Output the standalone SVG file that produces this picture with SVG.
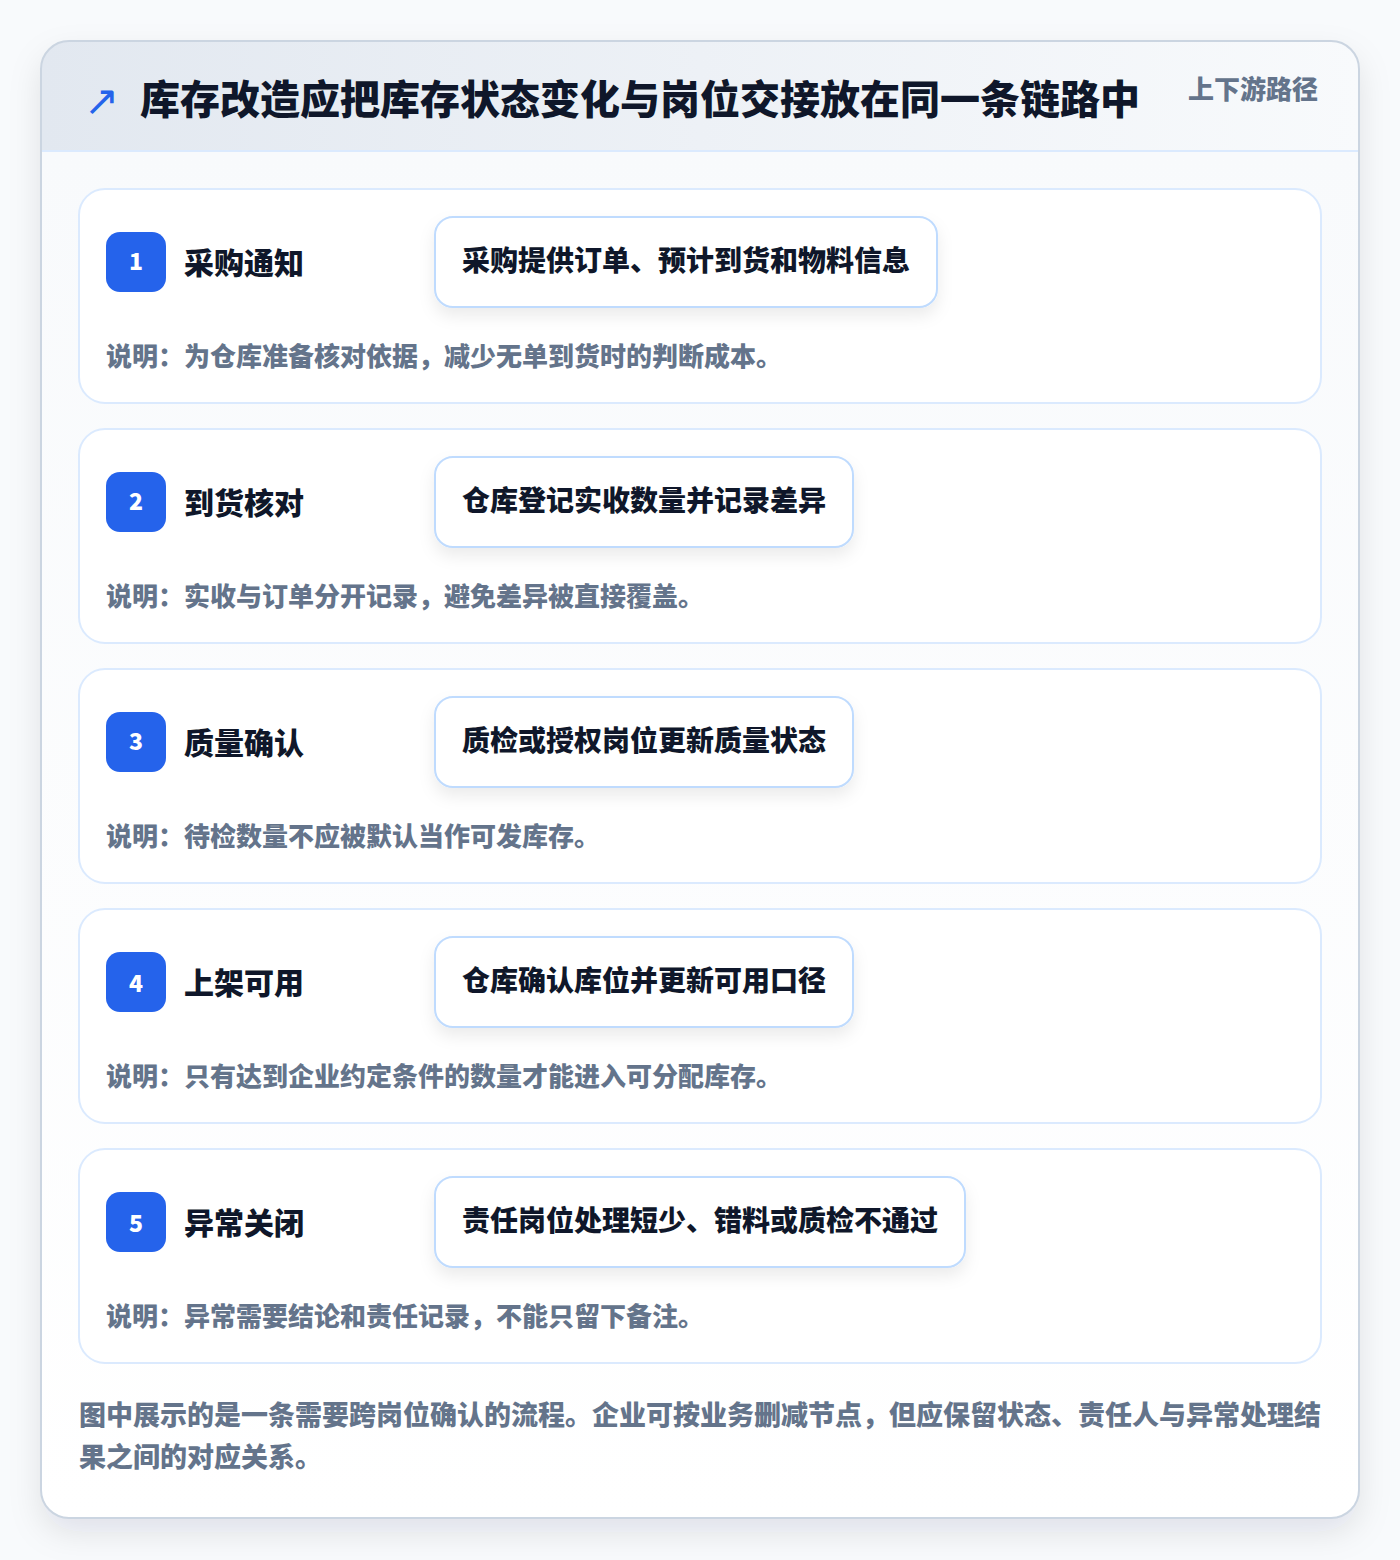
<svg xmlns="http://www.w3.org/2000/svg" width="1400" height="1560" viewBox="0 0 1400 1560">
<defs>
<linearGradient id="hdr" x1="0" y1="0" x2="1" y2="0"><stop offset="0" stop-color="#e2e8f0"/><stop offset="1" stop-color="#f8fafc"/></linearGradient>
<linearGradient id="body" x1="0" y1="0" x2="0" y2="1"><stop offset="0" stop-color="#f8fafc"/><stop offset="1" stop-color="#ffffff"/></linearGradient>
<clipPath id="cardClip"><rect x="41" y="41" width="1318" height="1477" rx="28"/></clipPath>
<filter id="sh" x="-10%" y="-10%" width="120%" height="125%"><feDropShadow dx="0" dy="14" stdDeviation="16" flood-color="#0f172a" flood-opacity="0.10"/></filter>
<filter id="sh2" x="-10%" y="-20%" width="120%" height="160%"><feDropShadow dx="0" dy="8" stdDeviation="8" flood-color="#0f172a" flood-opacity="0.08"/></filter>
<style>
text{font-family:"Noto Sans CJK SC","Noto Sans",sans-serif;font-weight:900}
.title{font-size:40px;fill:#0f172a}
.tag{font-size:26px;fill:#64748b}
.step{fill:#ffffff;stroke:#dbeafe;stroke-width:2}
.badge{fill:#2563eb}
.num{font-size:23px;fill:#ffffff;text-anchor:middle}
.st{font-size:30px;fill:#0f172a}
.box{fill:#ffffff;stroke:#bfdbfe;stroke-width:2}
.bt{font-size:28px;fill:#0f172a}
.desc{font-size:26px;fill:#64748b}
.foot{font-size:27px;fill:#64748b}
</style>
</defs>
<rect width="1400" height="1560" fill="#f8fafc"/>
<g id="card">
<rect x="41" y="41" width="1318" height="1477" rx="28" fill="#ffffff" filter="url(#sh)"/>
<g clip-path="url(#cardClip)">
<rect x="41" y="151" width="1318" height="1367" fill="url(#body)"/>
<rect x="41" y="41" width="1318" height="110" fill="url(#hdr)"/>
<line x1="41" y1="151" x2="1359" y2="151" stroke="#dbeafe" stroke-width="2"/>
</g>
<rect x="41" y="41" width="1318" height="1477" rx="28" fill="none" stroke="#cbd5e1" stroke-width="2"/>
</g>
<g id="header">
<text x="84" y="115" font-size="42" fill="#2563eb" style="font-family:'DejaVu Sans',sans-serif;font-weight:400">↗</text>
<text class="title" x="140" y="114">库存改造应把库存状态变化与岗位交接放在同一条链路中</text>
<text class="tag" x="1188" y="99">上下游路径</text>
</g>
<g id="connectors"></g>
<g id="step1">
<rect class="step" x="79" y="189" width="1242" height="214" rx="26"/>
<rect class="badge" x="106" y="232" width="60" height="60" rx="14"/>
<text class="num" x="136" y="270">1</text>
<text class="st" x="184" y="274">采购通知</text>
<rect class="box" x="435" y="217" width="502" height="90" rx="18" filter="url(#sh2)"/>
<text class="bt" x="462" y="271">采购提供订单、预计到货和物料信息</text>
<text class="desc" x="106" y="366">说明：为仓库准备核对依据，减少无单到货时的判断成本。</text>
</g>
<g id="step2">
<rect class="step" x="79" y="429" width="1242" height="214" rx="26"/>
<rect class="badge" x="106" y="472" width="60" height="60" rx="14"/>
<text class="num" x="136" y="510">2</text>
<text class="st" x="184" y="514">到货核对</text>
<rect class="box" x="435" y="457" width="418" height="90" rx="18" filter="url(#sh2)"/>
<text class="bt" x="462" y="511">仓库登记实收数量并记录差异</text>
<text class="desc" x="106" y="606">说明：实收与订单分开记录，避免差异被直接覆盖。</text>
</g>
<g id="step3">
<rect class="step" x="79" y="669" width="1242" height="214" rx="26"/>
<rect class="badge" x="106" y="712" width="60" height="60" rx="14"/>
<text class="num" x="136" y="750">3</text>
<text class="st" x="184" y="754">质量确认</text>
<rect class="box" x="435" y="697" width="418" height="90" rx="18" filter="url(#sh2)"/>
<text class="bt" x="462" y="751">质检或授权岗位更新质量状态</text>
<text class="desc" x="106" y="846">说明：待检数量不应被默认当作可发库存。</text>
</g>
<g id="step4">
<rect class="step" x="79" y="909" width="1242" height="214" rx="26"/>
<rect class="badge" x="106" y="952" width="60" height="60" rx="14"/>
<text class="num" x="136" y="992">4</text>
<text class="st" x="184" y="994">上架可用</text>
<rect class="box" x="435" y="937" width="418" height="90" rx="18" filter="url(#sh2)"/>
<text class="bt" x="462" y="991">仓库确认库位并更新可用口径</text>
<text class="desc" x="106" y="1086">说明：只有达到企业约定条件的数量才能进入可分配库存。</text>
</g>
<g id="step5">
<rect class="step" x="79" y="1149" width="1242" height="214" rx="26"/>
<rect class="badge" x="106" y="1192" width="60" height="60" rx="14"/>
<text class="num" x="136" y="1232">5</text>
<text class="st" x="184" y="1234">异常关闭</text>
<rect class="box" x="435" y="1177" width="530" height="90" rx="18" filter="url(#sh2)"/>
<text class="bt" x="462" y="1231">责任岗位处理短少、错料或质检不通过</text>
<text class="desc" x="106" y="1326">说明：异常需要结论和责任记录，不能只留下备注。</text>
</g>
<g id="footer">
<text class="foot" x="79" y="1425">图中展示的是一条需要跨岗位确认的流程。企业可按业务删减节点，但应保留状态、责任人与异常处理结</text>
<text class="foot" x="79" y="1467">果之间的对应关系。</text>
</g>
</svg>
